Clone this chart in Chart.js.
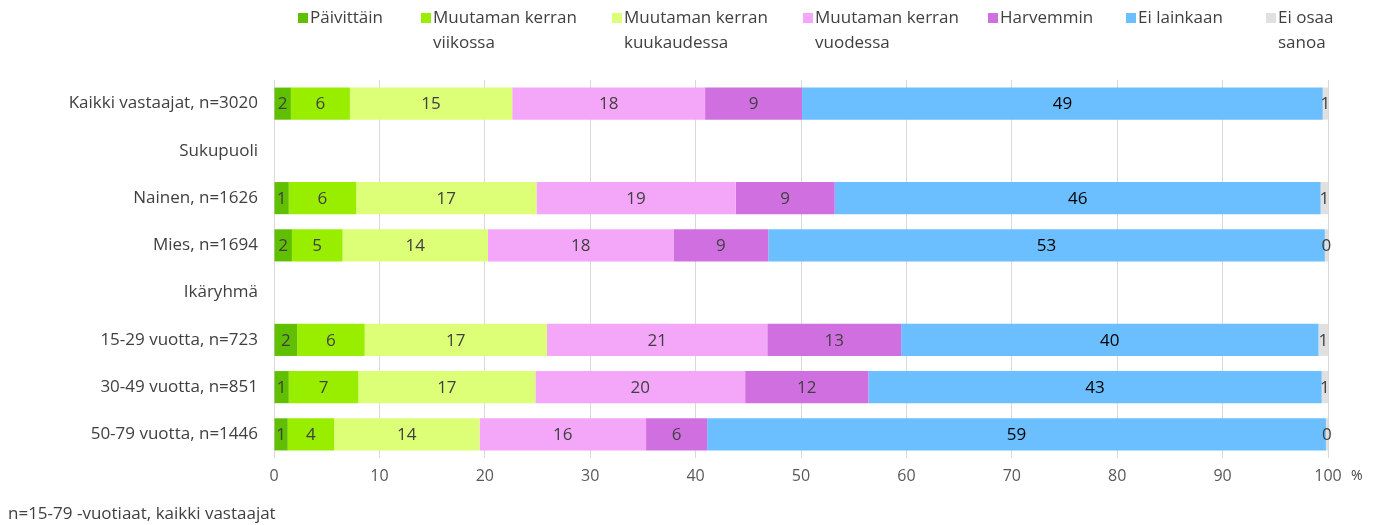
<!DOCTYPE html>
<html lang="fi">
<head>
<meta charset="utf-8">
<title>Kulttuuriin osallistuminen</title>
<script src="https://cdn.jsdelivr.net/npm/chart.js@4.4.1/dist/chart.umd.min.js"></script>
<style>
    body { margin: 0; background: #fff; }
    #wrap { width: 1378px; height: 525px; }
</style>
</head>
<body>
<div id="wrap"><canvas id="chart" width="1378" height="525"></canvas></div>
<script>
const categories = [
    'Kaikki vastaajat, n=3020',
    'Sukupuoli',
    'Nainen, n=1626',
    'Mies, n=1694',
    'Ikäryhmä',
    '15-29 vuotta, n=723',
    '30-49 vuotta, n=851',
    '50-79 vuotta, n=1446'
];

const seriesNames = [
    ['Päivittäin'],
    ['Muutaman kerran', 'viikossa'],
    ['Muutaman kerran', 'kuukaudessa'],
    ['Muutaman kerran', 'vuodessa'],
    ['Harvemmin'],
    ['Ei lainkaan'],
    ['Ei osaa', 'sanoa']
];

// % osuudet, otsikkorivit tyhjiä
const paivittain  = [1.6, null, 1.4, 1.7, null, 2.2, 1.4, 1.3];
const viikossa    = [5.6, null, 6.4, 4.8, null, 6.4, 6.6, 4.4];
const kuukaudessa = [15.4, null, 17.1, 13.8, null, 17.3, 16.8, 13.8];
const vuodessa    = [18.3, null, 18.9, 17.6, null, 20.9, 19.9, 15.8];
const harvemmin   = [9.2, null, 9.4, 9.0, null, 12.7, 11.7, 5.8];
const eiLainkaan  = [49.4, null, 46.1, 52.8, null, 39.6, 43.0, 58.7];
const eiOsaa      = [0.5, null, 0.7, 0.3, null, 0.9, 0.6, 0.2];

const xTicks = [0, 10, 20, 30, 40, 50, 60, 70, 80, 90, 100];

const colors = ['#5FBF00', '#99EE00', '#DDFF77', '#F4A6F8', '#D070E0', '#6BBFFF', '#E0E0E0'];
const FONT = "'Open Sans', sans-serif";
const TEXT = '#404040';

const seriesValues = [paivittain, viikossa, kuukaudessa, vuodessa, harvemmin, eiLainkaan, eiOsaa];

// arvot palkkien keskelle
const barLabels = {
    id: 'barLabels',
    afterDatasetsDraw(chart) {
        const ctx = chart.ctx;
        ctx.save();
        ctx.font = `17px ${FONT}`;
        ctx.textAlign = 'center';
        ctx.textBaseline = 'middle';
        chart.data.datasets.forEach((ds, i) => {
            const meta = chart.getDatasetMeta(i);
            meta.data.forEach((bar, j) => {
                const v = ds.data[j];
                if (v === null) return;
                const { x, base, y } = bar.getProps(['x', 'base', 'y'], true);
                ctx.fillStyle = i === 5 ? '#000' : TEXT;
                ctx.fillText(String(Math.round(v)), (x + base) / 2, y + 1);
            });
        });
        ctx.restore();
    }
};

// selite ylös, monirivisenä
const topLegend = {
    id: 'topLegend',
    afterDraw(chart) {
        const ctx = chart.ctx;
        const boxX = [298, 421, 612, 803, 988, 1126, 1266];
        ctx.save();
        ctx.font = `17px ${FONT}`;
        ctx.textBaseline = 'middle';
        ctx.textAlign = 'left';
        seriesNames.forEach((lines, i) => {
            ctx.fillStyle = colors[i];
            ctx.fillRect(boxX[i], 13, 10, 10);
            ctx.fillStyle = TEXT;
            lines.forEach((line, k) => {
                ctx.fillText(line, boxX[i] + 12, 18 + k * 25);
            });
        });
        ctx.fillStyle = TEXT;
        ctx.font = `14px ${FONT}`;
        ctx.fillText('%', 1351, 476);
        ctx.font = `17px ${FONT}`;
        ctx.fillText('n=15-79 -vuotiaat, kaikki vastaajat', 8, 514);
        ctx.restore();
    }
};

new Chart(document.getElementById('chart'), {
    type: 'bar',
    data: {
        labels: categories,
        datasets: seriesValues.map((vals, i) => ({
            label: seriesNames[i].join(' '),
            data: vals,
            backgroundColor: colors[i],
            borderWidth: 0,
            barPercentage: 0.68,
            categoryPercentage: 1
        }))
    },
    options: {
        indexAxis: 'y',
        responsive: false,
        animation: false,
        layout: { padding: { top: 80, right: 50, bottom: 37, left: 0 } },
        plugins: {
            legend: { display: false },
            tooltip: { enabled: false }
        },
        scales: {
            x: {
                stacked: true,
                min: 0,
                max: 100,
                afterBuildTicks: (axis) => { axis.ticks = xTicks.map(v => ({ value: v })); },
                afterFit: (axis) => { axis.height = 30; },
                border: { display: false },
                grid: { color: '#D9D9D9', drawTicks: false },
                ticks: { color: '#595959', padding: 9, font: { family: FONT, size: 16 } }
            },
            y: {
                stacked: true,
                afterFit: (axis) => { axis.width = 274; },
                border: { display: false },
                grid: { display: false, drawTicks: false },
                ticks: { color: TEXT, padding: 16, font: { family: FONT, size: 17 } }
            }
        }
    },
    plugins: [barLabels, topLegend]
});
</script>
</body>
</html>
